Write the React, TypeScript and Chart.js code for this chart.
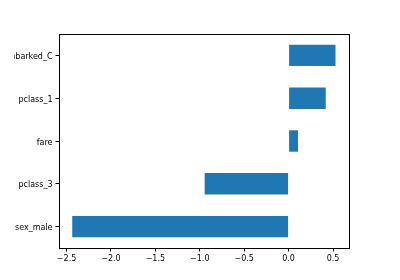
import React, { useEffect, useRef } from "react";
import { Chart, registerables } from "chart.js";

Chart.register(...registerables);

const categories = ["embarked_C", "pclass_1", "fare", "pclass_3", "sex_male"];
const coefficients = [0.528, 0.418, 0.106, -0.945, -2.436];
const xTickValues = [-2.5, -2.0, -1.5, -1.0, -0.5, 0.0, 0.5];
const xMin = -2.585;
const xMax = 0.68;

const FONT = "'DejaVu Sans', sans-serif";
const LABEL_CLIP_X = 14;

const framePlugin = {
  id: "frame",
  afterDraw(chart: any) {
    const { ctx, chartArea } = chart;
    const { left, top, right, bottom } = chartArea;
    ctx.save();
    ctx.strokeStyle = "#000";
    ctx.lineWidth = 1;
    ctx.strokeRect(Math.round(left) + 0.5, Math.round(top) + 0.5, Math.round(right - left), Math.round(bottom - top));
    ctx.restore();
  },
};

export default function App() {
  const ref = useRef<HTMLCanvasElement | null>(null);

  useEffect(() => {
    if (!ref.current) return;
    const chart = new Chart(ref.current, {
      type: "bar",
      data: {
        labels: categories,
        datasets: [
          {
            data: coefficients,
            backgroundColor: "#1f77b4",
            borderWidth: 0,
            barPercentage: 0.5,
            categoryPercentage: 1,
          },
        ],
      },
      options: {
        indexAxis: "y",
        responsive: false,
        animation: false,
        devicePixelRatio: 1,
        layout: { padding: { left: 0, right: 51, top: 34, bottom: 0 } },
        plugins: {
          legend: { display: false },
          tooltip: { enabled: false },
          title: { display: false },
        },
        scales: {
          x: {
            type: "linear",
            min: xMin,
            max: xMax,
            afterFit(scale: any) {
              scale.height = 32;
            },
            afterBuildTicks(scale: any) {
              scale.ticks = xTickValues.map((v) => ({ value: v }));
            },
            grid: {
              display: true,
              drawOnChartArea: false,
              drawTicks: true,
              tickLength: 3.5,
              tickColor: "#000",
              color: "#000",
            },
            border: { display: true, color: "#000", width: 1 },
            ticks: {
              padding: 3,
              color: "#000",
              font: { family: FONT, size: 8 },
              maxRotation: 0,
              autoSkip: false,
              callback: (v: any) => Number(v).toFixed(1).replace("-", "\u2212"),
            },
          },
          y: {
            type: "category",
            afterFit(scale: any) {
              scale.width = 59;
              if (!scale._clipWrapped) {
                scale._clipWrapped = true;
                const orig = scale.drawLabels.bind(scale);
                scale.drawLabels = (area: any) => {
                  const c = scale.ctx;
                  c.save();
                  c.beginPath();
                  c.rect(LABEL_CLIP_X, 0, 400, 280);
                  c.clip();
                  orig(area);
                  c.restore();
                };
              }
            },
            grid: {
              display: true,
              offset: false,
              drawOnChartArea: false,
              drawTicks: true,
              tickLength: 3.5,
              tickColor: "#000",
              color: "#000",
            },
            border: { display: true, color: "#000", width: 1 },
            ticks: {
              padding: 3,
              labelOffset: 1.5,
              color: "#000",
              font: { family: FONT, size: 8 },
              autoSkip: false,
            },
          },
        },
      },
      plugins: [framePlugin],
    } as any);
    return () => chart.destroy();
  }, []);

  return (
    <div style={{ position: "absolute", left: 0, top: 0, width: 400, height: 280, background: "#fff" }}>
      <canvas ref={ref} width={400} height={280} style={{ display: "block", width: 400, height: 280 }} />
    </div>
  );
}
